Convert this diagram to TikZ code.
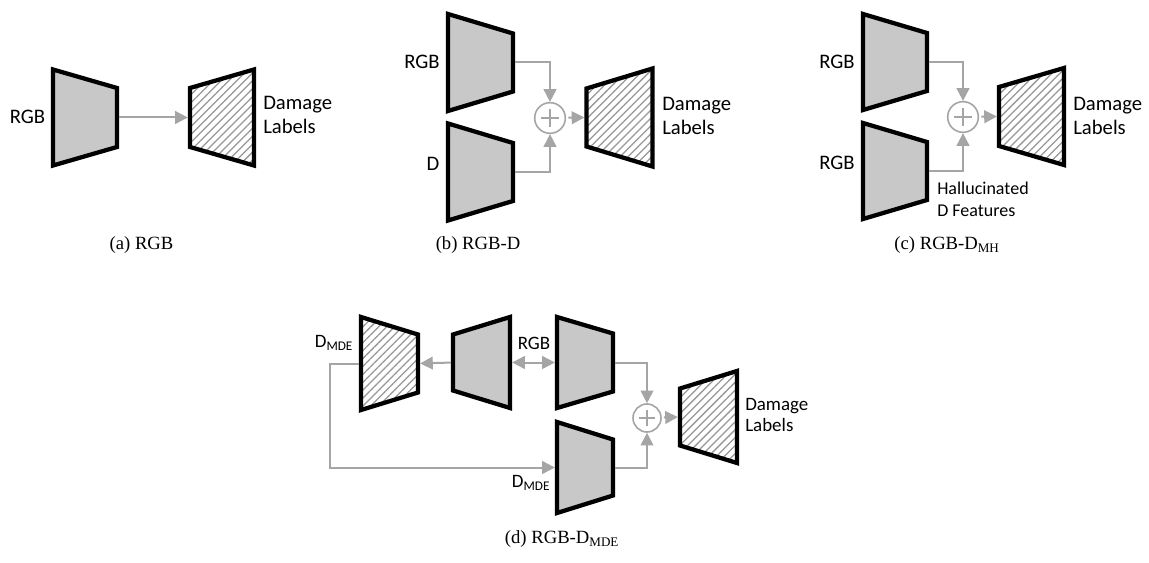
\documentclass[tikz,border=0pt]{standalone}
\usepackage{fontspec}
\setmainfont{Liberation Serif}
\newfontfamily\lab{Carlito}
\usetikzlibrary{arrows.meta,patterns.meta}
\definecolor{encgray}{RGB}{200,200,200}
\definecolor{arrgray}{RGB}{165,165,165}
\definecolor{hatchgray}{RGB}{150,150,150}
\begin{document}
\begin{tikzpicture}[x=0.75pt,y=-0.75pt,
  encfill/.style={draw=black,line width=3.2pt,line join=miter,fill=encgray},
  enchatch/.style={draw=black,line width=3.2pt,line join=miter,pattern={Lines[angle=45,distance=4.2pt,line width=0.95pt]},pattern color=hatchgray},
  pics/trap/.style n args={4}{code={
    \path[#1] (-#2/2,-#3/2) -- (#2/2,-#4/2) -- (#2/2,#4/2) -- (-#2/2,#3/2) -- cycle;
    \coordinate (-w) at (-#2/2,0);
    \coordinate (-e) at (#2/2,0);
  }},
  conn/.style={draw=arrgray,line width=1.5pt,-{Triangle[length=9.5pt,width=9.5pt]},shorten <=1.6pt},
  toshape/.style={shorten >=1.6pt},
  plus/.style={circle,draw=arrgray,line width=1.2pt,minimum size=#1,inner sep=0pt,
    path picture={\draw[arrgray,line width=2pt]
      ([xshift=-0.3*#1]path picture bounding box.center) -- ([xshift=0.3*#1]path picture bounding box.center)
      ([yshift=-0.3*#1]path picture bounding box.center) -- ([yshift=0.3*#1]path picture bounding box.center);}},
  lbl/.style={font=\lab\fontsize{15.5}{17.5}\selectfont,inner sep=0pt,align=left},
  lbld/.style={font=\lab\fontsize{14.2}{15.5}\selectfont,inner sep=0pt,align=left},
  captxt/.style={font=\fontsize{14}{16}\selectfont,inner sep=0pt},
]
\useasboundingbox (0,0) rectangle (1149,563);

% (a)
\pic (ea) at (85,117.5) {trap={encfill}{64}{96}{59}};
\pic (da) at (222,117.5) {trap={enchatch}{64}{59}{96}};
\draw[conn,toshape] (ea-e) -- (da-w);
\node[lbl] (ta1) at (27.5,117) {RGB};
\node[lbl,anchor=west] (ta2) at (263,115) {Damage\\Labels};
\node[captxt] (ca) at (141.5,245) {(a) RGB};

% (b)
\pic (eb1) at (480.5,62.5) {trap={encfill}{65}{97}{58}};
\pic (eb2) at (480.5,172) {trap={encfill}{65}{97}{58}};
\node[plus=23pt] (pb) at (550,118) {};
\pic (db) at (619.5,117.5) {trap={enchatch}{66}{58}{98}};
\draw[conn] (eb1-e) -| (pb.north);
\draw[conn] (eb2-e) -| (pb.south);
\draw[conn,toshape] (pb) -- (db-w);
\node[lbl] (tb1) at (422,62) {RGB};
\node[lbl] (tb2) at (433,164) {D};
\node[lbl,anchor=west] (tb3) at (662,116) {Damage\\Labels};
\node[captxt] (cb) at (478,245) {(b) RGB-D};

% (c)
\pic (ec1) at (895,62) {trap={encfill}{64}{96}{58}};
\pic (ec2) at (895,171) {trap={encfill}{64}{96}{58}};
\node[plus=23pt] (pc) at (963,117) {};
\pic (dc) at (1031.5,116.5) {trap={enchatch}{65}{59}{97}};
\draw[conn] (ec1-e) -| (pc.north);
\draw[conn] (ec2-e) -| (pc.south);
\draw[conn,toshape] (pc) -- (dc-w);
\node[lbl] (tc1) at (837,62) {RGB};
\node[lbl] (tc2) at (837,163) {RGB};
\node[lbl,anchor=west,font=\lab\fontsize{13.5}{16.5}\selectfont] (tc3) at (937,199) {Hallucinated\\D Features};
\node[lbl,anchor=west] (tc4) at (1073,116) {Damage\\Labels};
\node[captxt] (cc) at (947,245) {(c) RGB-D\textsubscript{MH}};

% (d)
\pic (eh) at (389.5,363.5) {trap={enchatch}{57}{93}{58}};
\pic (dm) at (481.5,362.5) {trap={encfill}{57}{56}{91}};
\pic (et) at (585,362.5) {trap={encfill}{56}{91}{58}};
\pic (eb) at (585,467.5) {trap={encfill}{56}{91}{56}};
\node[plus=21pt] (pd) at (647,418) {};
\pic (dd) at (708.5,417) {trap={enchatch}{57}{57}{92}};
\draw[conn,toshape] (dm-w) -- (eh-e);
\draw[conn,toshape,{Triangle[length=9.5pt,width=9.5pt]}-{Triangle[length=9.5pt,width=9.5pt]},shorten <=1.6pt] (dm-e) -- (et-w);
\draw[conn] (et-e) -| (pd.north);
\draw[conn] (eb-e) -| (pd.south);
\draw[conn,toshape] (pd) -- (dd-w);
\coordinate (bend) at (330,363.5);
\draw[conn,toshape] (eh-w) -- (bend) |- (eb-w);
\node[lbld] (td1) at (334,343) {D\textsubscript{MDE}};
\node[lbld] (td2) at (534,343) {RGB};
\node[lbld] (td3) at (531,483) {D\textsubscript{MDE}};
\node[lbld,anchor=west] (td4) at (745,415) {Damage\\Labels};
\node[captxt] (cd) at (562,539) {(d) RGB-D\textsubscript{MDE}};
\end{tikzpicture}
\end{document}
